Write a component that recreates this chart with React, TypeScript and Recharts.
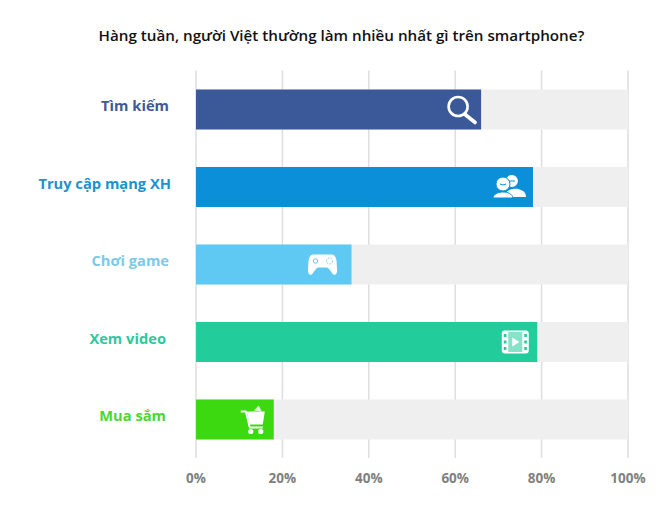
import React from 'react';
import { Bar, BarChart, CartesianGrid, Cell, XAxis, YAxis } from 'recharts';

const categories = ['Tìm kiếm', 'Truy cập mạng XH', 'Chơi game', 'Xem video', 'Mua sắm'];
const values = [66, 78, 36, 79, 18];
const colors = ['#3b5998', '#0a8fd8', '#5fc8f3', '#22cc9b', '#3cd911'];
const labelColors = ['#3f5a94', '#1a94cf', '#7cc9e8', '#2fc79d', '#4fd635'];
const xTicks = [0, 20, 40, 60, 80, 100];

const data = categories.map((name, i) => ({ name, value: values[i] }));
const FONT = '"Open Sans", sans-serif';

const SearchIcon = () => (
  <g fill="none" stroke="#fff">
    <circle cx={-1} cy={-3} r={9.5} strokeWidth={2.6} />
    <path d="M6 5 L16 13" strokeWidth={3.6} strokeLinecap="round" />
  </g>
);

const PeopleIcon = () => (
  <g>
    <circle cx={5} cy={-6} r={6} fill="#fff" />
    <path d="M-2 8 C0 1 10 1 14 3 C17 4 19 6 19 10 L6 10 Z" fill="#fff" />
    <circle cx={-4} cy={-3} r={7} fill="#fff" stroke="#0a8fd8" strokeWidth={1} />
    <path d="M-14 11 C-13 3 5 3 6 11 Z" fill="#fff" stroke="#0a8fd8" strokeWidth={1} />
    <path d="M-7 -3 Q-4 -1 -1 -3 M2 -6 H8" stroke="#0a8fd8" strokeWidth={1} fill="none" />
  </g>
);

const GamepadIcon = () => (
  <g>
    <path
      d="M-9 -10 H9 C12 -10 13 -8 14 -4 L14.5 5 C15 9 13 11 11 10 C9 9 7 3 4 3 H-4 C-7 3 -9 9 -11 10 C-13 11 -15 9 -14.5 5 L-14 -4 C-13 -8 -12 -10 -9 -10 Z"
      fill="#fff"
    />
    <circle cx={-7} cy={-3.5} r={2.2} fill="none" stroke="#5fc8f3" strokeWidth={1} />
    <circle cx={7} cy={-3.5} r={3} fill="none" stroke="#5fc8f3" strokeWidth={1} strokeDasharray="1.5 1.5" />
  </g>
);

const FilmIcon = () => (
  <g>
    <rect x={-13.5} y={-11.5} width={27} height={23} rx={3} fill="#fff" />
    <rect x={-7} y={-10} width={14} height={20} fill="#22cc9b" opacity={0.55} />
    {[-6.5, 0, 6.5].map((d) => (
      <g key={d} fill="#22cc9b">
        <rect x={-11.5} y={d - 1.5} width={2.6} height={3} />
        <rect x={9} y={d - 1.5} width={2.6} height={3} />
      </g>
    ))}
    <path d="M-3 -4.5 L4 0 L-3 4.5 Z" fill="#fff" />
  </g>
);

const CartIcon = () => (
  <g>
    <path d="M-13 -8 H-8 L-4 8 H9" fill="none" stroke="#fff" strokeWidth={1.8} />
    <path d="M-7 -8 H11 L9 5 H-4 Z" fill="#fff" />
    <path d="M0 -9 L5 -14 L8 -8 Z" fill="#fff" opacity={0.8} />
    <circle cx={-3} cy={12} r={2.6} fill="#fff" />
    <circle cx={7} cy={12} r={2.6} fill="#fff" />
  </g>
);

const icons = [SearchIcon, PeopleIcon, GamepadIcon, FilmIcon, CartIcon];
const iconOffsets = [-22, -26, -29, -22, -20];
const labelEnds = [169, 171, 169, 166, 166];

const BarWithIcon = (props: any) => {
  const { x, y, width, height, index, fill } = props;
  const Icon = icons[index];
  return (
    <g>
      <rect x={x} y={y} width={width} height={height} fill={fill} />
      <g transform={`translate(${x + width + iconOffsets[index]}, ${y + height / 2})`}>
        <Icon />
      </g>
    </g>
  );
};

const CategoryTick = (props: any) => {
  const { y, index, payload } = props;
  return (
    <text
      x={labelEnds[index]}
      y={y - 3}
      dy="0.35em"
      textAnchor="end"
      fontFamily={FONT}
      fontSize={14.7}
      fontWeight={700}
      fill={labelColors[index]}
    >
      {payload.value}
    </text>
  );
};

const App = () => (
  <div style={{ position: 'absolute', left: 0, top: 0, width: 660, height: 524, background: '#fff' }}>
    <div
      style={{
        position: 'absolute',
        left: 0,
        top: 25,
        width: 683,
        textAlign: 'center',
        fontFamily: FONT,
        fontSize: 15.2,
        fontWeight: 600,
        color: '#111',
      }}
    >
      Hàng tuần, người Việt thường làm nhiều nhất gì trên smartphone?
    </div>
    <BarChart
      width={660}
      height={524}
      data={data}
      layout="vertical"
      margin={{ top: 70.5, right: 32, bottom: 0, left: 0 }}
    >
      <CartesianGrid horizontal={false} stroke="#dedede" strokeWidth={1.5} />
      <XAxis
        type="number"
        domain={[0, 100]}
        ticks={xTicks}
        tickFormatter={(v) => `${v}%`}
        axisLine={false}
        tickLine={false}
        height={66}
        interval={0}
        tickMargin={9}
        tick={{ fontFamily: FONT, fontSize: 13.5, fontWeight: 700, fill: '#808080' }}
      />
      <YAxis
        type="category"
        dataKey="name"
        width={196}
        axisLine={false}
        tickLine={false}
        interval={0}
        tick={CategoryTick}
      />
      <Bar
        dataKey="value"
        barSize={40}
        background={{ fill: '#efefef' }}
        shape={BarWithIcon}
        isAnimationActive={false}
      >
        {categories.map((name, i) => (
          <Cell key={name} fill={colors[i]} />
        ))}
      </Bar>
    </BarChart>
  </div>
);

export default App;
